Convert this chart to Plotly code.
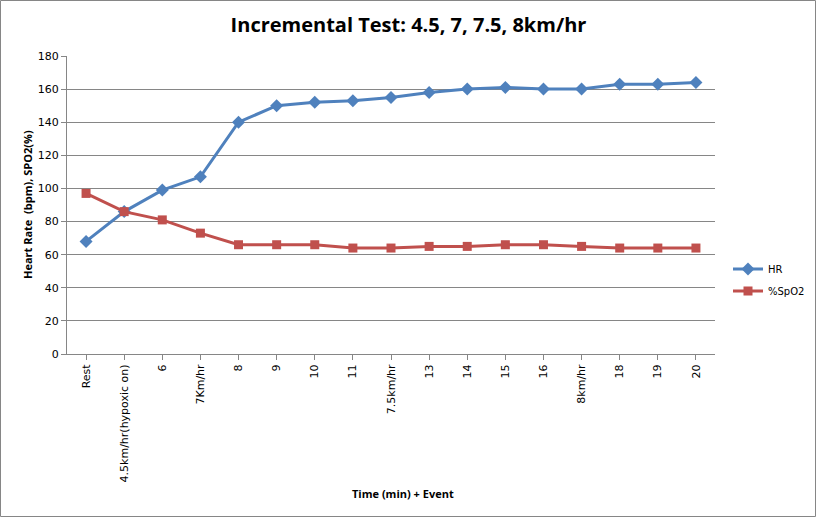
import plotly.graph_objects as go

categories = ["Rest", "4.5km/hr(hypoxic on)", "6", "7Km/hr", "8", "9", "10", "11",
              "7.5km/hr", "13", "14", "15", "16", "8km/hr", "18", "19", "20"]
hr = [68, 86, 99, 107, 140, 150, 152, 153, 155, 158, 160, 161, 160, 160, 163, 163, 164]
spo2 = [97, 86, 81, 73, 66, 66, 66, 64, 64, 65, 65, 66, 66, 65, 64, 64, 64]
y_ticks = [0, 20, 40, 60, 80, 100, 120, 140, 160, 180]

fig = go.Figure()
fig.add_trace(go.Scatter(x=categories, y=hr, name="HR", mode="lines+markers", legendgroup="a",
                         line=dict(color="#4F81BD", width=3),
                         marker=dict(symbol="diamond", size=10, color="#4F81BD")))
fig.add_trace(go.Scatter(x=categories, y=spo2, name="%SpO2", mode="lines+markers", legendgroup="b",
                         line=dict(color="#C0504D", width=3),
                         marker=dict(symbol="square", size=9, color="#C0504D")))

L, R, T, B = 67, 102, 56, 164
W, H = 817, 518
PW, PH = W - L - R, H - T - B
fig.update_layout(
    width=W, height=H,
    margin=dict(l=L, r=R, t=T, b=B, autoexpand=False),
    paper_bgcolor="white", plot_bgcolor="white",
    title=dict(text="<b>Incremental Test: 4.5, 7, 7.5, 8km/hr</b>", x=0.5, xanchor="center",
               y=1 - 25 / H, yanchor="middle",
               font=dict(family="Open Sans", size=20, color="black")),
    showlegend=True,
    legend=dict(x=(728 - L) / PW, y=(354 - 280) / PH, xanchor="left", yanchor="middle",
                font=dict(family="DejaVu Sans", size=10, color="black"),
                tracegroupgap=3, itemwidth=30, bgcolor="rgba(0,0,0,0)"),
    xaxis=dict(type="category", tickangle=-90, showgrid=False, showline=True, linecolor="#868686",
               linewidth=1, ticks="outside", tickcolor="#868686", ticklen=5,
               tickfont=dict(family="DejaVu Sans", size=11, color="black"),
               range=[-0.5, len(categories) - 0.5], automargin=False),
    yaxis=dict(range=[0, 180], tickvals=y_ticks, showgrid=True, gridcolor="#868686", gridwidth=1,
               showline=True, linecolor="#868686", linewidth=1, ticks="outside", tickcolor="#868686",
               ticklen=5, zeroline=False, automargin=False,
               tickfont=dict(family="DejaVu Sans", size=11, color="black")),
    shapes=[dict(type="rect", xref="paper", yref="paper",
                 x0=(-L + 0.5) / PW, x1=1 + (R - 1.5) / PW,
                 y0=(-B + 1.5) / PH, y1=1 + (T - 0.5) / PH,
                 line=dict(color="#868686", width=1))],
    annotations=[
        dict(text="<b>Heart Rate  (bpm), SPO2(%)</b>", xref="paper", yref="paper",
             x=-(L - 27) / PW, y=0.5, textangle=-90, showarrow=False,
             xanchor="center", yanchor="middle",
             font=dict(family="Open Sans", size=11, color="black")),
        dict(text="<b>Time (min) + Event</b>", xref="paper", yref="paper",
             x=(403 - L) / PW, y=-(493 - 354) / PH, showarrow=False,
             xanchor="center", yanchor="middle",
             font=dict(family="Open Sans", size=11, color="black")),
    ],
)

fig.write_html("out.html", config={"responsive": False, "displayModeBar": False},
               post_script="document.body.style.margin='0px';document.documentElement.style.overflow='hidden';")
